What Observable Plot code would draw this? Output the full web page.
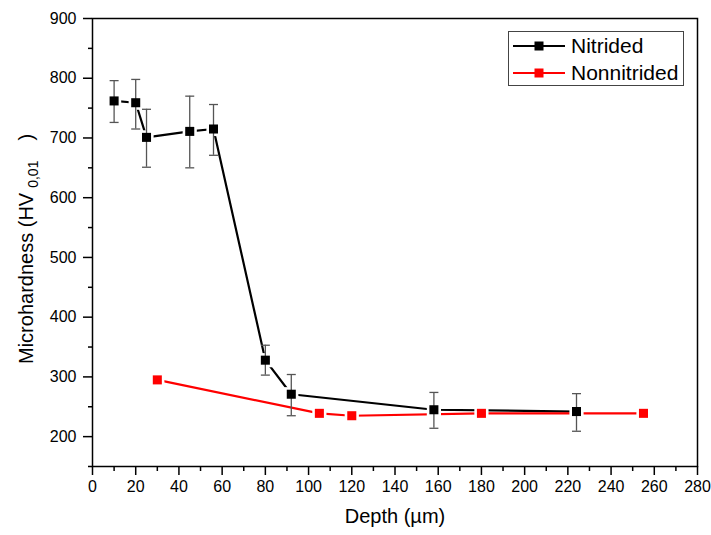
<!DOCTYPE html>
<html><head><meta charset="utf-8">
<script src="https://cdn.jsdelivr.net/npm/d3@7"></script>
<script src="https://cdn.jsdelivr.net/npm/@observablehq/plot@0.6"></script>
<style>
body{margin:0;background:#fff;font-family:"Liberation Sans",Arial,sans-serif;}
#wrap{position:relative;width:711px;height:535px;}
#legend{position:absolute;left:508px;top:31px;width:174px;height:53px;border:1px solid #444;background:#fff;}
.row{position:absolute;left:4px;height:26px;display:flex;align-items:center;font-size:21px;color:#000;line-height:26px;}
.row svg{margin-right:6px;}
</style></head><body><div id="wrap"><div id="legend"></div></div>
<script>
// Nitrided series
const nitridedDepth = [10, 20, 25, 45, 56, 80, 92, 158, 224];
const nitridedHV    = [762, 759, 701, 711, 715, 328, 271, 245, 242];
const nitridedLow   = [726, 715, 651, 650, 671, 303, 235, 214, 209];
const nitridedHigh  = [796, 798, 748, 770, 756, 353, 304, 274, 272];
// Nonnitrided series
const nonnitridedDepth = [30, 105, 120, 180, 255];
const nonnitridedHV    = [295, 239, 235, 239, 239];
// Ticks
const xMajor = [0, 20, 40, 60, 80, 100, 120, 140, 160, 180, 200, 220, 240, 260, 280];
const xMinor = [10, 30, 50, 70, 90, 110, 130, 150, 170, 190, 210, 230, 250, 270];
const yMajor = [200, 300, 400, 500, 600, 700, 800, 900];
const yMinor = [150, 250, 350, 450, 550, 650, 750, 850];
const seriesNames = ["Nitrided", "Nonnitrided"];
const seriesColors = ["#000000", "#ff0000"];

const nitrided = nitridedDepth.map((d, i) => ({depth: d, hv: nitridedHV[i], lo: nitridedLow[i], hi: nitridedHigh[i]}));
const nonnitrided = nonnitridedDepth.map((d, i) => ({depth: d, hv: nonnitridedHV[i]}));

const capSymbol = {draw(ctx) { ctx.moveTo(-4.5, 0); ctx.lineTo(4.5, 0); }};
const errColor = "#555";

const chart = Plot.plot({
  width: 711, height: 535,
  marginLeft: 92, marginRight: 14, marginTop: 18, marginBottom: 69,
  style: {fontFamily: "'Liberation Sans', Arial, sans-serif", fontSize: "16px", color: "#000", background: "#fff", overflow: "visible"},
  x: {domain: [0, 280]},
  y: {domain: [150, 900]},
  marks: [
    Plot.axisX({ticks: xMajor, tickSize: 9, tickPadding: 5, label: null, strokeWidth: 1.5, fontSize: 16}),
    Plot.axisX({ticks: xMinor, tickSize: 5, text: null, label: null, strokeWidth: 1.5}),
    Plot.axisY({ticks: yMajor, tickSize: 9, tickPadding: 7, label: null, strokeWidth: 1.5, fontSize: 16}),
    Plot.axisY({ticks: yMinor, tickSize: 4, text: null, label: null, strokeWidth: 1.5}),
    Plot.line(nitrided, {x: "depth", y: "hv", stroke: seriesColors[0], strokeWidth: 2.2}),
    Plot.line(nonnitrided, {x: "depth", y: "hv", stroke: seriesColors[1], strokeWidth: 2.2}),
    Plot.dot(nitrided, {x: "depth", y: "hv", symbol: "square", r: 8, fill: "#fff"}),
    Plot.dot(nonnitrided, {x: "depth", y: "hv", symbol: "square", r: 8, fill: "#fff"}),
    Plot.ruleX(nitrided, {x: "depth", y1: "lo", y2: "hi", stroke: errColor, strokeWidth: 1.3}),
    Plot.dot(nitrided, {x: "depth", y: "lo", symbol: capSymbol, stroke: errColor, strokeWidth: 1.3}),
    Plot.dot(nitrided, {x: "depth", y: "hi", symbol: capSymbol, stroke: errColor, strokeWidth: 1.3}),
    Plot.dot(nitrided, {x: "depth", y: "hv", symbol: "square", r: 5.1, fill: seriesColors[0]}),
    Plot.dot(nonnitrided, {x: "depth", y: "hv", symbol: "square", r: 5.1, fill: seriesColors[1]}),
    Plot.frame({stroke: "#000", strokeWidth: 1.5}),
    Plot.text(["Depth (\u00b5m)"], {frameAnchor: "bottom", dy: 56, fontSize: 20, fill: "#000"})
  ]
});

const svg = d3.select(chart);
const t = svg.append("text")
  .attr("transform", "translate(33,364) rotate(-90)")
  .attr("text-anchor", "start")
  .attr("font-size", 20)
  .attr("fill", "#000");
t.append("tspan").text("Microhardness (HV");
t.append("tspan").attr("font-size", 14).attr("dy", 5).attr("dx", 5).text("0,01");
t.append("tspan").attr("dy", -5).attr("dx", 20).text(")");

document.getElementById("wrap").prepend(chart);

const legend = document.getElementById("legend");
seriesNames.forEach((name, i) => {
  const row = document.createElement("div");
  row.className = "row";
  row.style.top = (i === 0 ? 1 : 28) + "px";
  const c = seriesColors[i];
  row.innerHTML = `<svg width="52" height="12"><line x1="0" y1="6" x2="52" y2="6" stroke="${c}" stroke-width="2.2"/><rect x="21.5" y="1.5" width="9" height="9" fill="${c}"/></svg><span>${name}</span>`;
  legend.appendChild(row);
});
</script>
</body></html>
